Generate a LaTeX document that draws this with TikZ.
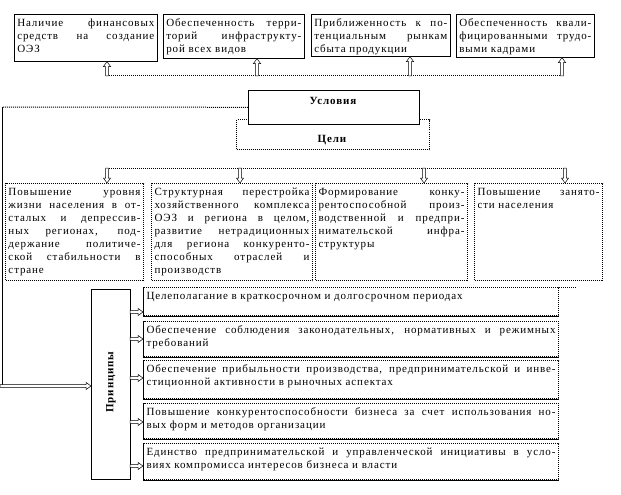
\documentclass[tikz,border=0pt]{standalone}
\usepackage{fontspec}
\setmainfont{Liberation Serif}[LetterSpace=8.0]
\usetikzlibrary{arrows.meta,calc}
\newcommand{\tb}[3]{\parbox[t][#2][t]{#1}{\fontsize{11}{13}\selectfont #3}}
\newcommand{\jl}[1]{\noindent\hbox to\linewidth{\strut #1}\par}
\newcommand{\lastl}[1]{\noindent\hbox{\strut #1}\par}
\begin{document}
\begin{tikzpicture}[x=1pt,y=-1pt,
  sbox/.style={draw=black, line width=0.6pt, fill=white, inner xsep=3pt, inner ysep=3pt, anchor=north west},
  dbox/.style={sbox, line width=1pt, dash pattern=on 1pt off 1pt},
  dline/.style={line width=1pt, dash pattern=on 1pt off 1pt},
  sline/.style={line width=0.6pt},
  harrow/.style={draw=black, fill=white, line width=0.5pt, line join=miter,
    to path={let \p1=(\tikztostart), \p2=(\tikztotarget), \p3=($(\p2)!5pt!(\p1)$) in
      ($(\p1)!1.3pt!90:(\p2)$) -- ($(\p3)!1.3pt!90:(\p2)$) -- ($(\p3)!3.6pt!90:(\p2)$) -- (\p2)
      -- ($(\p3)!3.6pt!-90:(\p2)$) -- ($(\p3)!1.3pt!-90:(\p2)$) -- ($(\p1)!1.3pt!-90:(\p2)$) -- cycle}},
  lab/.style={font=\fontsize{11}{13}\selectfont\bfseries, inner sep=0pt}]
\useasboundingbox (0,0) rectangle (621,495);

% top boxes
\node[sbox] (t1) at (14,14) {\tb{137pt}{41pt}{\jl{Наличие финансовых}\jl{средств на создание}\lastl{ОЭЗ}}};
\node[sbox] (t2) at (163,14) {\tb{135pt}{38pt}{\jl{Обеспеченность терри-}\jl{торий инфраструкту-}\lastl{рой всех видов}}};
\node[sbox] (t3) at (311,14) {\tb{133pt}{36pt}{\jl{Приближенность к по-}\jl{тенциальным рынкам}\lastl{сбыта продукции}}};
\node[sbox] (t4) at (456,14) {\tb{132pt}{37pt}{\jl{Обеспеченность квали-}\jl{фицированными трудо-}\lastl{выми кадрами}}};
\draw[dline] (t1.north east) -- (t1.south east) -- (t1.south west);

% top connector
\coordinate (a1) at (107,76);
\coordinate (a2) at (257,76);
\coordinate (a3) at (410,76);
\coordinate (a4) at (562,76);
\draw[dline] (a1) -- (a4);
\path[harrow] (a1) to (a1 |- t1.south);
\path[harrow] (a2) to (a2 |- t2.south);
\path[harrow] (a3) to (a3 |- t3.south);
\path[harrow] (a4) to (a4 |- t4.south);

% goals & conditions
\node[dbox, minimum width=193pt, minimum height=30pt, inner sep=0pt] (cel) at (236,119) {};
\node[lab] (celt) at (332,140) {Цели};
\node[sbox, minimum width=171pt, minimum height=34pt, inner sep=0pt] (usl) at (248,90) {};
\draw[dline] (usl.north east) -- (usl.south east);
\node[lab] (uslt) at (333,101) {Условия};

% left loop
\coordinate (lc1) at (2,107);
\coordinate (lc2) at (2,386);
\coordinate (lc3) at (0,386);
\draw[dline] (usl.west) -- (lc1);
\draw[sline] (lc1) -- (lc2);

% goal boxes
\node[dbox] (g1) at (5,183) {\tb{132pt}{91pt}{\jl{Повышение уровня}\jl{жизни населения в от-}\jl{сталых и депрессив-}\jl{ных регионах, под-}\jl{держание политиче-}\jl{ской стабильности в}\lastl{стране}}};
\node[dbox] (g2) at (151,183) {\tb{155pt}{91pt}{\jl{Структурная перестройка}\jl{хозяйственного комплекса}\jl{ОЭЗ и региона в целом,}\jl{развитие нетрадиционных}\jl{для региона конкуренто-}\jl{способных отраслей и}\lastl{производств}}};
\node[dbox] (g3) at (315,183) {\tb{146pt}{91pt}{\jl{Формирование конку-}\jl{рентоспособной произ-}\jl{водственной и предпри-}\jl{нимательской инфра-}\lastl{структуры}}};
\node[dbox] (g4) at (474,183) {\tb{122pt}{91pt}{\jl{Повышение занято-}\lastl{сти населения}}};

\coordinate (b1) at (107,168);
\coordinate (b2) at (240,168);
\coordinate (b3) at (424,168);
\coordinate (b4) at (565,168);
\draw[dline] (b1) -- (b4);
\path[harrow] (b1) to (b1 |- g1.north);
\path[harrow] (b2) to (b2 |- g2.north);
\path[harrow] (b3) to (b3 |- g3.north);
\path[harrow] (b4) to (b4 |- g4.north);

% principles
\node[sbox, minimum width=39pt, minimum height=190pt, inner sep=0pt] (prn) at (91,289) {};
\draw[dline] (prn.north east) -- (prn.south east);
\node[lab, rotate=90] (prnt) at (111,382) {Принципы};
\path[harrow] (lc3) to (lc3 -| prn.west);

\node[dbox] (p1) at (143,287) {\tb{409pt}{22pt}{\lastl{Целеполагание в краткосрочном и долгосрочном периодах}}};
\node[dbox] (p2) at (143,321) {\tb{409pt}{29pt}{\jl{Обеспечение соблюдения законодательных, нормативных и режимных}\lastl{требований}}};
\node[dbox] (p3) at (143,360) {\tb{409pt}{32pt}{\jl{Обеспечение прибыльности производства, предпринимательской и инве-}\lastl{стиционной активности в рыночных аспектах}}};
\node[dbox] (p4) at (143,403) {\tb{409pt}{29pt}{\jl{Повышение конкурентоспособности бизнеса за счет использования но-}\lastl{вых форм и методов организации}}};
\node[dbox] (p5) at (143,443) {\tb{409pt}{30pt}{\jl{Единство предпринимательской и управленческой инициативы в усло-}\lastl{виях компромисса интересов бизнеса и власти}}};
\foreach \p in {p1,p2,p3,p4,p5} {\draw[sline] (\p.north west) -- (\p.south west) -- (\p.south east);}
\coordinate (ext) at (577,287);
\draw[dline] (p1.north east) -- (ext);

\coordinate (pa1) at (130,312);
\coordinate (pa2) at (130,339);
\coordinate (pa3) at (130,378);
\coordinate (pa4) at (130,422);
\coordinate (pa5) at (130,466);
\path[harrow] (pa1) to (pa1 -| p1.west);
\path[harrow] (pa2) to (pa2 -| p2.west);
\path[harrow] (pa3) to (pa3 -| p3.west);
\path[harrow] (pa4) to (pa4 -| p4.west);
\path[harrow] (pa5) to (pa5 -| p5.west);
\end{tikzpicture}
\end{document}
